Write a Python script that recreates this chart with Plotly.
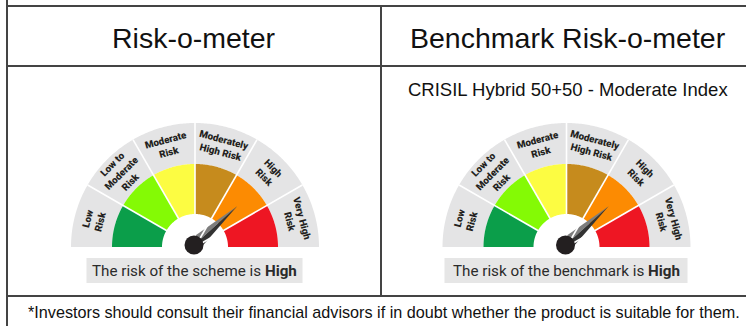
import math
import plotly.graph_objects as go

# ---- content ---------------------------------------------------------------
risk_levels = ["Low<br>Risk", "Low to<br>Moderate<br>Risk", "Moderate<br>Risk",
               "Moderately<br>High Risk", "High<br>Risk", "Very High<br>Risk"]
level_colors = ["#0b9e4a", "#84fa05", "#fcfc42", "#c68b1d", "#fc8b02", "#ee1623"]
column_titles = ["Risk-o-meter", "Benchmark Risk-o-meter"]
benchmark_name = "CRISIL Hybrid 50+50 - Moderate Index"
verdict_subjects = ["scheme", "benchmark"]
verdict_levels = ["High", "High"]
needle_values = [4.6, 4.6]          # needle position on the 0-6 dial scale
footnote = ("*Investors should consult their financial advisors if in doubt "
            "whether the product is suitable for them.")

# ---- layout constants (pixels) ------------------------------------------------
W, H = 746, 326
LINE = "#444444"
INK = "#231f20"
GREY = "#e4e4e5"
col_centres = [194, 568]
gauge_cx = [195, 566.5]
gauge_cy = 247
R_OUT, R_COL, R_IN = 124, 83, 33
box_widths = [216, 243]

fig = go.Figure()


def sector(cx, cy, r0, r1, a0, a1, n=40):
    xs, ys = [], []
    for i in range(n + 1):
        a = math.radians(a0 + (a1 - a0) * i / n)
        xs.append(cx + r1 * math.cos(a)); ys.append(cy - r1 * math.sin(a))
    for i in range(n + 1):
        a = math.radians(a1 - (a1 - a0) * i / n)
        xs.append(cx + r0 * math.cos(a)); ys.append(cy - r0 * math.sin(a))
    return xs, ys


annotations = []
shapes = []
n_lv = len(risk_levels)
step = 180 / n_lv

for g, cx in enumerate(gauge_cx):
    cy = gauge_cy
    for i, (lab, col) in enumerate(zip(risk_levels, level_colors)):
        a1 = 180 - i * step
        a0 = a1 - step
        xs, ys = sector(cx, cy, R_COL, R_OUT, a0, a1)
        fig.add_trace(go.Scatter(x=xs, y=ys, fill="toself", fillcolor=GREY,
                                 mode="none", hoverinfo="skip", showlegend=False))
        xs, ys = sector(cx, cy, R_IN, R_COL, a0, a1)
        fig.add_trace(go.Scatter(x=xs, y=ys, fill="toself", fillcolor=col,
                                 mode="none", hoverinfo="skip", showlegend=False))
        mid = math.radians((a0 + a1) / 2)
        rl = (R_COL + R_OUT) / 2 + 1
        annotations.append(dict(
            x=cx + rl * math.cos(mid), y=cy - rl * math.sin(mid),
            text=lab, showarrow=False, textangle=90 - (a0 + a1) / 2,
            font=dict(family="Roboto", size=9.8, color=INK, weight=900)))
    # white dividers between bands
    for i in range(1, n_lv):
        a = math.radians(180 - i * step)
        shapes.append(dict(type="line", xref="x", yref="y", x0=cx, y0=cy,
                           x1=cx + R_OUT * math.cos(a), y1=cy - R_OUT * math.sin(a),
                           line=dict(color="white", width=1.6)))
    # needle
    ang = math.radians(180 - needle_values[g] * step)
    L, hw = 58, 7
    hx, hy = cx - 1, cy - 2
    tx, ty = hx + L * math.cos(ang), hy - L * math.sin(ang)
    px, py = -math.sin(ang), -math.cos(ang)
    topx, topy = hx + hw * px, hy + hw * py
    botx, boty = hx - hw * px, hy - hw * py
    fig.add_trace(go.Scatter(x=[hx, topx, tx, hx], y=[hy, topy, ty, hy], fill="toself",
                             fillcolor="#7d7d7d", mode="none", hoverinfo="skip",
                             showlegend=False))
    fig.add_trace(go.Scatter(x=[hx, botx, tx, hx], y=[hy, boty, ty, hy], fill="toself",
                             fillcolor="#333333", mode="none", hoverinfo="skip",
                             showlegend=False))
    shapes.append(dict(type="circle", xref="x", yref="y", x0=hx - 9.5, x1=hx + 9.5,
                       y0=hy - 9.5, y1=hy + 9.5, fillcolor=INK, line=dict(width=0),
                       layer="above"))
    # verdict box
    bw = box_widths[g]
    shapes.append(dict(type="rect", xref="x", yref="y", x0=cx - 0.5 - bw / 2,
                       x1=cx - 0.5 + bw / 2, y0=258, y1=283, fillcolor="#e6e6e6",
                       line=dict(width=0), layer="below"))
    annotations.append(dict(
        x=cx - 0.5, y=270.5, showarrow=False,
        text=f"The risk of the {verdict_subjects[g]} is <b>{verdict_levels[g]}</b>",
        font=dict(family="Roboto", size=15.2, color="#2b2b2b")))

# column headings
for t, xc in zip(column_titles, col_centres):
    annotations.append(dict(x=xc, y=38, text=t, showarrow=False,
                            font=dict(family="Liberation Sans", size=28.5, color="#111")))
annotations.append(dict(x=567.5, y=89, text=benchmark_name, showarrow=False,
                        font=dict(family="Liberation Sans", size=18.5, color="#111")))
annotations.append(dict(x=383.5, y=312, text=footnote, showarrow=False,
                        font=dict(family="Liberation Sans", size=16.2, color="#111")))

# table rules
for (x0, y0, x1, y1) in [(7, 0, 7, H), (7, 6, W, 6), (7, 66, W, 66),
                         (381, 6, 381, 296), (7, 296, W, 296)]:
    shapes.append(dict(type="line", xref="x", yref="y", x0=x0, y0=y0, x1=x1, y1=y1,
                       line=dict(color=LINE, width=2)))

fig.update_layout(
    width=W, height=H, margin=dict(l=0, r=0, t=0, b=0),
    paper_bgcolor="white", plot_bgcolor="white",
    xaxis=dict(range=[0, W], visible=False, fixedrange=True),
    yaxis=dict(range=[H, 0], visible=False, fixedrange=True),
    shapes=shapes, annotations=annotations,
)
fig.write_html("out.html")
